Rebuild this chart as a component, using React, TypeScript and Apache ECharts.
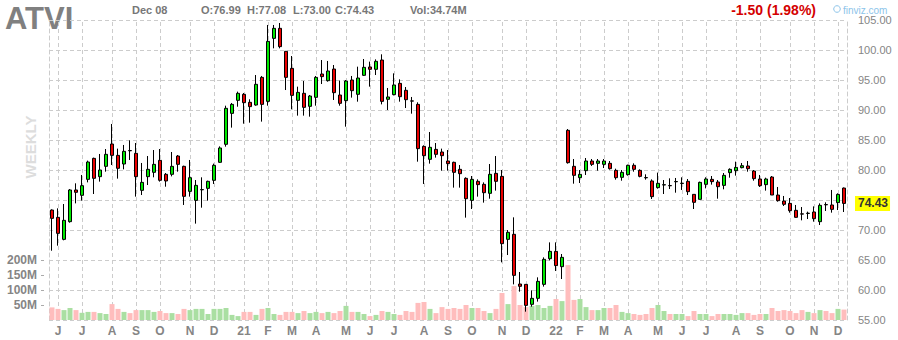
import { useEffect, useRef } from 'react';
import * as echarts from 'echarts';

// ---------- data ----------
const START_MONDAY = '2020-05-25';
const TICKER = 'ATVI';
const LAST_DATE_LABEL = 'Dec 08';
const PERIOD_LABEL = 'WEEKLY';

const OPEN = [
  73.33, 72.11, 68.44, 71.39, 76.67, 75.78, 78.44, 81.94, 78.89, 80.61,
  84.33, 82.44, 81.0, 83.25, 82.78, 76.61, 78.89, 79.61, 81.61, 79.28,
  79.28, 82.33, 80.61, 76.44, 74.94, 76.7, 76.94, 78.28, 81.28, 84.28,
  89.44, 91.61, 92.61, 91.28, 90.83, 95.44, 91.44, 101.94, 103.61, 99.78,
  96.94, 91.61, 92.78, 90.61, 92.11, 96.0, 94.89, 96.83, 92.5, 91.56,
  95.0, 92.61, 95.78, 97.17, 96.78, 98.33, 91.78, 92.56, 94.44, 93.28,
  91.52, 90.94, 83.94, 81.78, 83.44, 83.0, 81.5, 81.28, 80.11, 78.61,
  74.94, 78.11, 77.61, 76.11, 79.44, 78.94, 68.44, 69.28, 61.0, 60.94,
  57.61, 58.61, 60.94, 65.22, 66.44, 63.89, 86.61, 80.61, 78.72, 79.89,
  81.5, 81.11, 80.94, 81.11, 79.94, 78.78, 79.22, 80.78, 79.94, 78.74,
  78.17, 77.06, 77.5, 77.41, 78.04, 77.76, 78.11, 75.94, 75.11, 77.61,
  78.44, 78.0, 77.44, 79.56, 79.89, 80.39, 80.67, 79.83, 78.5, 77.56,
  78.83, 75.83, 74.83, 74.44, 73.28, 72.69, 72.76, 73.0, 71.39, 74.24,
  74.17, 74.56, 76.99,
];
const HIGH = [
  73.44, 73.61, 74.33, 76.83, 77.78, 79.17, 81.56, 82.06, 82.67, 83.5,
  87.67, 83.56, 84.17, 84.94, 84.5, 81.17, 82.33, 83.33, 83.5, 79.5,
  83.0, 82.5, 80.72, 81.67, 78.33, 78.78, 78.22, 81.06, 83.94, 90.72,
  91.17, 93.06, 92.83, 91.78, 95.83, 95.67, 104.17, 104.17, 104.5, 99.78,
  99.0, 93.89, 94.83, 92.5, 95.67, 98.33, 98.17, 97.5, 94.89, 95.0,
  95.67, 97.22, 98.5, 98.06, 98.44, 99.28, 93.67, 96.11, 95.11, 93.83,
  92.17, 91.28, 84.11, 86.33, 84.5, 83.56, 83.33, 81.39, 80.83, 78.78,
  79.0, 78.44, 77.94, 81.0, 82.33, 80.0, 70.0, 72.11, 63.0, 60.94,
  59.94, 62.11, 65.44, 67.94, 67.94, 66.0, 86.83, 81.83, 80.0, 82.0,
  81.83, 81.83, 81.83, 81.5, 80.22, 80.0, 80.89, 81.11, 80.11, 79.28,
  78.44, 79.56, 78.33, 78.61, 78.67, 78.78, 78.5, 75.94, 78.06, 78.78,
  79.0, 78.33, 79.5, 80.28, 81.39, 81.17, 81.5, 80.0, 79.17, 78.72,
  79.0, 77.17, 75.67, 75.33, 74.17, 73.83, 73.06, 73.94, 74.44, 74.61,
  76.67, 76.11, 77.08,
];
const LOW = [
  66.55, 67.39, 68.28, 71.22, 74.44, 74.89, 77.94, 76.0, 78.06, 79.72,
  80.83, 78.56, 80.11, 81.67, 75.56, 75.83, 77.5, 78.78, 78.06, 77.22,
  78.94, 79.72, 74.17, 75.56, 71.06, 73.72, 74.89, 77.67, 81.17, 83.89,
  87.06, 90.55, 87.72, 87.89, 90.72, 88.06, 90.72, 100.28, 100.28, 93.33,
  90.11, 89.06, 89.06, 88.89, 90.72, 94.33, 94.72, 91.67, 90.72, 87.22,
  92.06, 91.39, 95.67, 93.89, 95.83, 90.94, 90.0, 92.44, 91.39, 90.33,
  89.39, 81.39, 77.67, 81.06, 82.06, 79.89, 79.89, 77.06, 77.06, 72.06,
  73.5, 75.56, 74.56, 75.22, 76.56, 64.61, 65.83, 60.94, 59.72, 56.39,
  57.22, 58.06, 60.56, 64.94, 63.17, 61.83, 81.06, 77.72, 77.83, 79.17,
  80.67, 79.89, 80.33, 80.06, 78.39, 78.22, 79.06, 79.72, 78.78, 78.39,
  75.17, 76.89, 76.0, 76.83, 76.22, 76.67, 75.83, 73.5, 75.11, 76.94,
  77.56, 75.22, 76.78, 78.72, 79.06, 80.28, 79.72, 78.22, 77.17, 76.56,
  75.83, 74.72, 74.0, 72.89, 72.06, 71.61, 71.83, 71.39, 70.83, 73.17,
  72.89, 73.33, 73.0,
];
const CLOSE = [
  71.94, 69.44, 71.61, 76.67, 76.28, 77.39, 81.33, 78.61, 80.0, 82.61,
  82.44, 80.28, 83.11, 83.2, 78.89, 77.94, 80.11, 80.94, 78.28, 78.17,
  80.61, 80.94, 75.61, 78.72, 77.44, 76.74, 78.11, 80.78, 83.67, 90.28,
  90.94, 92.78, 91.22, 90.56, 94.28, 90.94, 101.44, 103.61, 100.56, 95.44,
  92.44, 92.94, 90.44, 92.33, 95.44, 95.56, 96.5, 92.89, 91.11, 94.83,
  93.22, 95.33, 97.11, 96.78, 98.11, 91.44, 92.17, 94.17, 92.22, 91.72,
  91.48, 83.56, 82.39, 83.78, 82.61, 82.39, 81.06, 79.61, 79.39, 75.22,
  78.44, 77.56, 76.22, 79.28, 78.11, 67.72, 69.61, 62.44, 60.61, 57.44,
  58.61, 61.44, 65.11, 66.44, 64.06, 65.44, 81.22, 79.11, 79.28, 81.5,
  80.94, 81.5, 81.5, 80.22, 78.72, 79.61, 80.78, 80.11, 78.94, 78.7,
  75.56, 77.78, 77.55, 77.37, 78.08, 77.8, 76.39, 74.61, 77.94, 78.5,
  78.06, 77.22, 79.11, 80.11, 80.44, 80.72, 80.22, 78.56, 77.39, 78.5,
  75.83, 74.89, 74.28, 73.22, 72.11, 72.65, 72.8, 71.89, 74.11, 74.2,
  73.44, 75.93, 74.43,
];
// weekly volume, millions of shares
const VOLUME = [
  42, 37, 33, 40, 33, 24, 27, 27, 23, 20,
  53, 37, 27, 23, 33, 33, 33, 27, 30, 23,
  23, 20, 37, 33, 37, 37, 20, 37, 37, 40,
  17, 13, 27, 27, 17, 37, 40, 20, 17, 27,
  27, 23, 30, 23, 27, 23, 27, 23, 30, 47,
  27, 27, 20, 13, 17, 30, 27, 20, 17, 30,
  27, 57, 60, 37, 23, 43, 37, 40, 37, 50,
  40, 40, 30, 23, 37, 90, 53, 113, 50, 43,
  47, 50, 40, 47, 70, 63, 183, 67, 70, 43,
  33, 33, 40, 40, 50, 27, 23, 20, 17, 20,
  40, 50, 30, 20, 20, 20, 13, 30, 20, 20,
  13, 20, 20, 20, 17, 23, 23, 17, 20, 20,
  40, 30, 33, 30, 23, 33, 27, 23, 33, 30,
  23, 37, 34.74,
];

const MONTH_TICK_INDEX = [
  1, 5, 10, 14, 18, 23, 27, 32, 36, 40, 44, 49, 53, 57, 62, 66,
  70, 75, 79, 84, 88, 92, 96, 101, 105, 109, 114, 118, 123, 127, 131,
];
const MONTH_TICK_LABEL = [
  'J', 'J', 'A', 'S', 'O', 'N', 'D', '21', 'F', 'M', 'A', 'M', 'J', 'J', 'A', 'S',
  'O', 'N', 'D', '22', 'F', 'M', 'A', 'M', 'J', 'J', 'A', 'S', 'O', 'N', 'D',
];

const PRICE_MIN = 55;
const PRICE_MAX = 105;
const PRICE_STEP = 5;
const VOLUME_MAX = 1000;
const VOLUME_TICKS = [50, 100, 150, 200];

// ---------- styles ----------
const FONT = 'Arial, "Liberation Sans", Helvetica, sans-serif';
const GRID_COLOR = '#cccccc';
const DASH = [4, 3];
const UP = '#00e800';
const DOWN = '#e80000';
const VOL_UP = '#aadfa2';
const VOL_DOWN = '#ffbdbd';
const LABEL_GRAY = '#858585';

function weekCategories(n: number): string[] {
  const out: string[] = [];
  const t0 = Date.parse(START_MONDAY + 'T00:00:00Z');
  for (let i = 0; i < n; i++) {
    out.push(new Date(t0 + i * 7 * 86400000).toISOString().slice(0, 10));
  }
  return out;
}

export default function App() {
  const ref = useRef<HTMLDivElement>(null);

  useEffect(() => {
    if (!ref.current) return;
    const chart = echarts.init(ref.current, undefined, { renderer: 'svg' });
    const cats = weekCategories(CLOSE.length);
    const tickLabel = new Map<number, string>();
    MONTH_TICK_INDEX.forEach((idx, k) => tickLabel.set(idx, MONTH_TICK_LABEL[k]));

    const n = CLOSE.length;
    const last = n - 1;
    const change = CLOSE[last] - CLOSE[last - 1];
    const pct = (Math.abs(change) / CLOSE[last - 1]) * 100;
    const changeText = `${change >= 0 ? '+' : '-'}${Math.abs(change).toFixed(2)} (${pct.toFixed(2)}%)`;

    const headerStyle = { fontFamily: FONT, fontSize: 11, fontWeight: 'bold', fill: '#777777', verticalAlign: 'middle' };

    const option: any = {
      animation: false,
      backgroundColor: '#ffffff',
      grid: { left: 49, right: 51, top: 20, height: 300 },
      xAxis: {
        type: 'category',
        data: cats,
        boundaryGap: true,
        axisLine: { show: false },
        axisTick: { show: false },
        splitLine: { show: false },
        axisLabel: {
          interval: (index: number) => tickLabel.has(index),
          formatter: (_v: string, index: number) => tickLabel.get(index) ?? '',
          color: LABEL_GRAY,
          fontFamily: FONT,
          fontSize: 12,
          fontWeight: 'bold',
          margin: 5,
        },
      },
      yAxis: [
        {
          type: 'value',
          position: 'right',
          min: PRICE_MIN,
          max: PRICE_MAX,
          interval: PRICE_STEP,
          axisLine: { show: true, lineStyle: { color: GRID_COLOR, type: DASH } },
          axisTick: { show: false },
          splitLine: { show: true, lineStyle: { color: GRID_COLOR, type: DASH, width: 1 } },
          axisLabel: {
            formatter: (v: number) => v.toFixed(2),
            color: LABEL_GRAY,
            fontFamily: FONT,
            fontSize: 11,
            margin: 11,
          },
        },
        {
          type: 'value',
          position: 'left',
          min: 0,
          max: VOLUME_MAX,
          offset: 5,
          axisLine: { show: false },
          axisTick: { show: true, customValues: VOLUME_TICKS, length: 3, lineStyle: { color: '#aaaaaa' } },
          splitLine: { show: false },
          axisLabel: {
            customValues: VOLUME_TICKS,
            formatter: (v: number) => `${v}M`,
            color: LABEL_GRAY,
            fontFamily: FONT,
            fontSize: 12,
            fontWeight: 'bold',
            margin: 7,
          },
        },
        {
          type: 'value',
          position: 'left',
          min: 0,
          max: 1,
          axisLine: { show: true, lineStyle: { color: GRID_COLOR, type: DASH } },
          axisTick: { show: false },
          axisLabel: { show: false },
          splitLine: { show: false },
        },
      ],
      series: [
        {
          name: 'Volume',
          type: 'bar',
          xAxisIndex: 0,
          yAxisIndex: 1,
          barWidth: 5,
          z: 2,
          data: VOLUME.map((v, i) => ({
            value: v,
            itemStyle: { color: CLOSE[i] > OPEN[i] ? VOL_UP : VOL_DOWN },
          })),
          markLine: {
            z: 1,
            silent: true,
            symbol: ['none', 'none'],
            label: { show: false },
            lineStyle: { color: GRID_COLOR, type: DASH, width: 1 },
            data: MONTH_TICK_INDEX.map((i) => ({ xAxis: cats[i] })),
          },
        },
        {
          name: TICKER,
          type: 'candlestick',
          xAxisIndex: 0,
          yAxisIndex: 0,
          barWidth: 4,
          z: 3,
          data: CLOSE.map((c, i) => [OPEN[i], c, LOW[i], HIGH[i]]),
          itemStyle: {
            color: UP,
            color0: DOWN,
            borderColor: '#000000',
            borderColor0: '#000000',
            borderWidth: 1,
          },
          markLine: {
            z: 6,
            silent: true,
            symbol: ['none', 'none'],
            lineStyle: { width: 1, color: 'rgba(0,0,0,0)' },
            label: {
              show: true,
              position: 'end',
              distance: 8,
              formatter: () => CLOSE[last].toFixed(2),
              backgroundColor: '#ffff00',
              color: '#333333',
              fontFamily: FONT,
              fontSize: 12,
              fontWeight: 'bold',
              padding: [2, 2, 1, 3],
              opacity: 1,
            },
            emphasis: { disabled: true },
            data: [{ yAxis: CLOSE[last] }],
          },
        },
      ],
      graphic: [
        {
          type: 'text',
          x: 5,
          y: 18,
          style: { text: TICKER, fontFamily: FONT, fontSize: 31, fontWeight: 'bold', fill: '#808080', verticalAlign: 'middle' },
        },
        {
          type: 'text',
          x: 30,
          y: 147,
          rotation: Math.PI / 2,
          style: { text: PERIOD_LABEL, fontFamily: FONT, fontSize: 15, fontWeight: 'bold', fill: '#dddddd', align: 'center', verticalAlign: 'middle' },
        },
        { type: 'text', x: 132, y: 10, style: { ...headerStyle, text: LAST_DATE_LABEL } },
        { type: 'text', x: 201, y: 10, style: { ...headerStyle, text: `O:${OPEN[last].toFixed(2)}` } },
        { type: 'text', x: 247, y: 10, style: { ...headerStyle, text: `H:${HIGH[last].toFixed(2)}` } },
        { type: 'text', x: 293, y: 10, style: { ...headerStyle, text: `L:${LOW[last].toFixed(2)}` } },
        { type: 'text', x: 335, y: 10, style: { ...headerStyle, text: `C:${CLOSE[last].toFixed(2)}` } },
        { type: 'text', x: 410, y: 10, style: { ...headerStyle, text: `Vol:${VOLUME[last].toFixed(2)}M` } },
        {
          type: 'text',
          x: 816,
          y: 10,
          style: { text: changeText, fontFamily: FONT, fontSize: 14, fontWeight: 'bold', fill: change < 0 ? '#d40000' : '#00a000', align: 'right', verticalAlign: 'middle' },
        },
        {
          type: 'circle',
          shape: { cx: 837, cy: 9, r: 3.3 },
          style: { fill: 'none', stroke: '#8cc4ea', lineWidth: 1 },
        },
        {
          type: 'text',
          x: 843,
          y: 10,
          style: { text: 'finviz.com', fontFamily: FONT, fontSize: 10, fill: '#8cc4ea', verticalAlign: 'middle' },
        },
      ],
    };

    chart.setOption(option);
    return () => chart.dispose();
  }, []);

  return (
    <div
      ref={ref}
      style={{ position: 'absolute', left: 0, top: 0, width: 898, height: 340, background: '#ffffff' }}
    />
  );
}
